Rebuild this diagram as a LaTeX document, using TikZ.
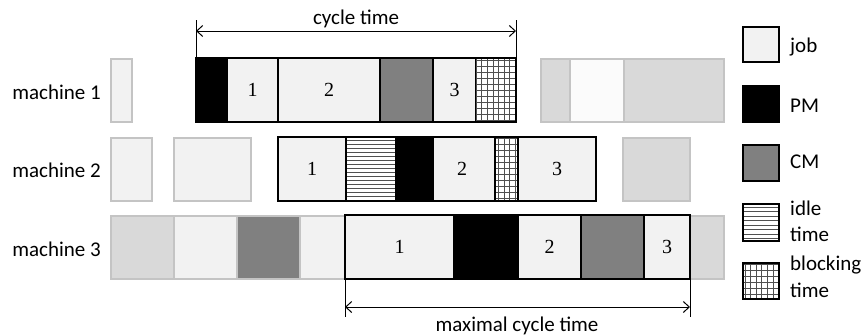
\documentclass[tikz,border=0pt]{standalone}
\usepackage{fontspec}
\newfontfamily\carl{Carlito}
\newfontfamily\digs{Liberation Serif}
\usetikzlibrary{arrows.meta}
\definecolor{jobc}{HTML}{F2F2F2}
\definecolor{fadeb}{HTML}{C4C4C4}
\definecolor{lgray}{HTML}{D9D9D9}
\definecolor{cmc}{HTML}{808080}
\definecolor{wht}{HTML}{FBFBFB}
\definecolor{hatch}{HTML}{505050}
\newcommand\blockbox[4]{%
  \fill[white] (#1,#2) rectangle (#3,#4);
  \begin{scope}
    \clip (#1,#2) rectangle (#3,#4);
    \draw[hatch, line width=0.6pt, xstep=5.6pt, ystep=6pt] (#1,#2) grid (#3,#4);
  \end{scope}}
\newcommand\idlebox[5]{%
  \fill[white] (#1,#2) rectangle (#3,#4);
  \begin{scope}
    \clip (#1,#2) rectangle (#3,#4);
    \draw[hatch, line width=0.6pt, xstep=2000pt, ystep=#5] (#1,#2) grid (#3,#4);
  \end{scope}}
\begin{document}
\begin{tikzpicture}[x=1pt,y=-1pt,
  fade/.style={draw=fadeb, line width=1.5pt},
  seg/.style={draw=black, line width=1.5pt},
  outer/.style={draw=black, line width=2.2pt},
  lbl/.style={font=\carl\fontsize{21}{25}\selectfont, inner sep=0pt},
  num/.style={font=\digs\fontsize{20}{24}\selectfont, inner sep=0pt},
  dim/.style={line width=1pt},
  dimarrow/.style={line width=1pt, {Straight Barb[length=6pt,width=11pt]}-{Straight Barb[length=6pt,width=11pt]}}]
\useasboundingbox (0,0) rectangle (864,335);

% machine labels
\node[lbl, anchor=base east] (m1) at (101,99) {machine 1};
\node[lbl, anchor=base east] (m2) at (101,177) {machine 2};
\node[lbl, anchor=base east] (m3) at (101,256) {machine 3};

% faded boxes row 1
\filldraw[fade, fill=jobc] (111,59) rectangle (132,122);
\filldraw[fade, fill=lgray] (541,59) rectangle (570,122);
\filldraw[fade, fill=wht] (570,59) rectangle (624,122);
\filldraw[fade, fill=lgray] (624,59) rectangle (724,122);
% faded boxes row 2
\filldraw[fade, fill=jobc] (111,138) rectangle (152,201);
\filldraw[fade, fill=jobc] (174,138) rectangle (251,201);
\filldraw[fade, fill=lgray] (623,138) rectangle (690,201);
% faded boxes row 3
\filldraw[fade, fill=lgray] (111,216) rectangle (174,279);
\filldraw[fade, fill=jobc] (174,216) rectangle (237,279);
\filldraw[fade, fill=cmc] (237,216) rectangle (300,279);
\filldraw[fade, fill=jobc] (300,216) rectangle (345,279);
\filldraw[fade, fill=lgray] (690,216) rectangle (724,279);

% row 1 main bar
\filldraw[seg, fill=black] (196,58) rectangle (227,122);
\filldraw[seg, fill=jobc] (227,58) rectangle (278,122);
\filldraw[seg, fill=jobc] (278,58) rectangle (380,122);
\filldraw[seg, fill=cmc] (380,58) rectangle (433,122);
\filldraw[seg, fill=jobc] (433,58) rectangle (476,122);
\blockbox{476}{58}{516}{122}
\draw[outer] (196,58) rectangle (516,122);
\node[num] (r1j1) at (252.5,90) {1};
\node[num] (r1j2) at (329,90) {2};
\node[num] (r1j3) at (454.5,90) {3};

% row 2 main bar
\filldraw[seg, fill=jobc] (278,137) rectangle (346,201);
\idlebox{346}{137}{396}{201}{4pt}
\filldraw[seg, fill=black] (396,137) rectangle (433,201);
\filldraw[seg, fill=jobc] (433,137) rectangle (495,201);
\blockbox{495}{137}{518}{201}
\filldraw[seg, fill=jobc] (518,137) rectangle (596,201);
\draw[seg] (346,137) -- (346,201) (495,137) -- (495,201) (518,137) -- (518,201);
\draw[outer] (278,137) rectangle (596,201);
\node[num] (r2j1) at (312,169) {1};
\node[num] (r2j2) at (462,169) {2};
\node[num] (r2j3) at (557,169) {3};

% row 3 main bar
\filldraw[seg, fill=jobc] (345,215) rectangle (454,279);
\filldraw[seg, fill=black] (454,215) rectangle (518,279);
\filldraw[seg, fill=jobc] (518,215) rectangle (581,279);
\filldraw[seg, fill=cmc] (581,215) rectangle (644,279);
\filldraw[seg, fill=jobc] (644,215) rectangle (690,279);
\draw[outer] (345,215) rectangle (690,279);
\node[num] (r3j1) at (399.5,247) {1};
\node[num] (r3j2) at (549.5,247) {2};
\node[num] (r3j3) at (667,247) {3};

% cycle time
\coordinate (ctA) at (196,31);
\coordinate (ctB) at (516,31);
\draw[dim] (196,20) -- (196,58) (516,20) -- (516,58);
\draw[dimarrow] (ctA) -- (ctB);
\node[lbl, anchor=base] (ct) at (356,24) {cycle time};

% maximal cycle time
\coordinate (mcA) at (345,307);
\coordinate (mcB) at (690,307);
\draw[dim] (345,279) -- (345,317) (690,279) -- (690,317);
\draw[dimarrow] (mcA) -- (mcB);
\node[lbl, anchor=base] (mct) at (517,331) {maximal cycle time};

% legend
\filldraw[outer, fill=jobc] (743,27) rectangle (779,62);
\filldraw[outer, fill=black] (743,86) rectangle (779,122);
\filldraw[outer, fill=cmc] (743,145) rectangle (779,181);
\idlebox{743}{204}{779}{241}{4.5pt}
\draw[outer] (743,204) rectangle (779,241);
\blockbox{743}{263}{779}{299}
\draw[outer] (743,263) rectangle (779,299);
\node[lbl, anchor=base west] (lj) at (790,52) {job};
\node[lbl, anchor=base west] (lpm) at (790,112) {PM};
\node[lbl, anchor=base west] (lcm) at (790,168) {CM};
\node[lbl, anchor=base west] (li1) at (790,215) {idle};
\node[lbl, anchor=base west] (li2) at (790,241) {time};
\node[lbl, anchor=base west] (lb1) at (790,270) {blocking};
\node[lbl, anchor=base west] (lb2) at (790,297) {time};
\end{tikzpicture}
\end{document}
